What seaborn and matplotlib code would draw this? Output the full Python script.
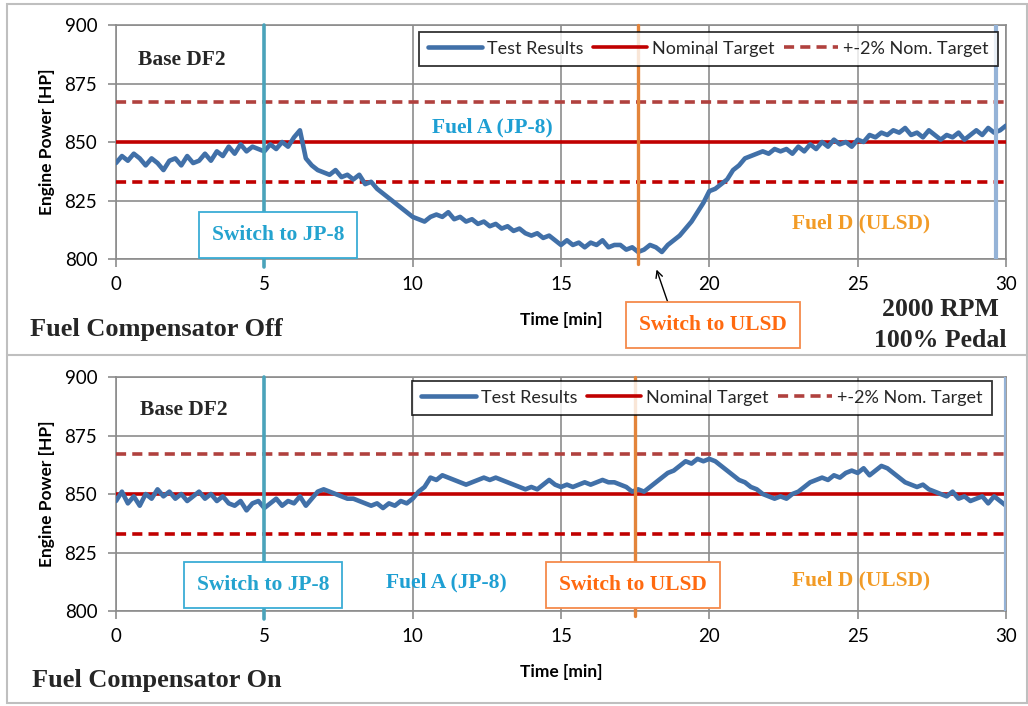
import numpy as np
import pandas as pd
import matplotlib
matplotlib.use("Agg")
import matplotlib.pyplot as plt
import seaborn as sns
from matplotlib.patches import Rectangle
from matplotlib.lines import Line2D

# ---------------- data ----------------
time_min = np.round(np.arange(0, 30.01, 0.2), 1)

power_comp_off = [
    841, 844, 842, 845, 843,
    840, 843, 841, 838, 842,
    843, 840, 844, 841, 842,
    845, 842, 846, 844, 848,
    845, 849, 846, 848, 847,
    846, 849, 847, 850, 848,
    852, 855, 843, 840, 838,
    837, 836, 838, 835, 836,
    834, 836, 832, 833, 830,
    828, 826, 824, 822, 820,
    818, 817, 816, 818, 819,
    818, 820, 817, 818, 816,
    817, 815, 816, 814, 815,
    813, 814, 812, 813, 811,
    810, 811, 809, 810, 808,
    806, 808, 806, 807, 805,
    807, 806, 808, 805, 806,
    806, 804, 805, 803, 804,
    806, 805, 803, 806, 808,
    810, 813, 816, 820, 824,
    829, 830, 832, 834, 838,
    840, 843, 844, 845, 846,
    845, 847, 846, 847, 845,
    848, 846, 849, 847, 850,
    848, 851, 849, 850, 848,
    851, 850, 853, 852, 854,
    853, 855, 854, 856, 853,
    854, 852, 855, 853, 851,
    853, 852, 854, 851, 853,
    855, 853, 856, 854, 855,
    857,
]

power_comp_on = [
    847, 851, 846, 849, 845,
    850, 848, 852, 849, 851,
    848, 850, 847, 849, 851,
    848, 850, 847, 849, 846,
    845, 847, 843, 846, 847,
    844, 846, 848, 845, 847,
    846, 849, 845, 848, 851,
    852, 851, 850, 849, 848,
    848, 847, 846, 845, 846,
    844, 846, 845, 847, 846,
    848, 851, 853, 857, 856,
    858, 857, 856, 855, 854,
    855, 856, 857, 856, 857,
    856, 855, 854, 853, 852,
    853, 852, 854, 856, 854,
    853, 854, 853, 854, 855,
    854, 855, 856, 855, 855,
    854, 853, 851, 852, 851,
    853, 855, 857, 859, 860,
    862, 864, 863, 865, 864,
    865, 864, 862, 860, 858,
    856, 855, 853, 852, 850,
    849, 848, 849, 848, 850,
    851, 853, 855, 856, 857,
    856, 858, 857, 859, 860,
    859, 861, 858, 860, 862,
    861, 859, 857, 855, 854,
    853, 854, 852, 851, 850,
    849, 851, 848, 849, 847,
    848, 849, 846, 849, 847,
    845,
]

nominal_target = 850
target_band = [833, 867]          # +-2% of nominal
switch_jp8 = [5.0, 5.0]           # [top, bottom] panel, min
switch_ulsd = [17.6, 17.5]
end_marker = [29.65, 30.0]
x_ticks = [0, 5, 10, 15, 20, 25, 30]
y_ticks = [800, 825, 850, 875, 900]
legend_labels = ["Test Results", "Nominal Target", "+-2% Nom. Target"]
panel_titles = ["Fuel Compensator Off", "Fuel Compensator On"]

# ---------------- style ----------------
sns.set_theme(style="white")
plt.rcParams["font.family"] = ["Lato", "DejaVu Sans"]

BLUE = "#4170A8"
RED = "#C00000"
BROWN = "#B0413E"
TEAL = "#4AA3BA"
ORANGE = "#E3843A"
LIGHTBLUE = "#95B3D7"
GRID = "#8C8C8C"
FUELA = "#1E9FD3"
FUELD = "#F29B26"
ULSD_TXT = "#FF6A10"
SERIF = ["Liberation Serif", "DejaVu Serif"]

W, H = 1028, 706
fig = plt.figure(figsize=(W / 100, H / 100), dpi=100)
ax1 = fig.add_axes([116 / W, 1 - 259 / H, 890 / W, 234 / H])
ax2 = fig.add_axes([116 / W, 1 - 611 / H, 890 / W, 234 / H])

# figure border + separator
fig.patches.append(Rectangle((7 / W, 1 - 703 / H), 1 - 8 / W, 699 / H, transform=fig.transFigure,
                             fill=False, edgecolor="#BFBFBF", lw=1.5))
fig.lines.append(Line2D([7 / W, 1], [1 - 355 / H, 1 - 355 / H], transform=fig.transFigure,
                        color="#BFBFBF", lw=1.5))


def draw_panel(ax, values, i):
    df = pd.DataFrame({"Time [min]": time_min, "Engine Power [HP]": values})
    sns.lineplot(data=df, x="Time [min]", y="Engine Power [HP]", ax=ax, color=BLUE,
                 lw=3.3, label=legend_labels[0], zorder=4)
    ax.axhline(nominal_target, color=RED, lw=2.6, label=legend_labels[1], zorder=3)
    ax.axhline(target_band[1], color=BROWN, lw=2.6, ls=(0, (2.8, 1.7)), label=legend_labels[2], zorder=3)
    ax.axhline(target_band[0], color=RED, lw=2.6, ls=(0, (2.8, 1.7)), label="_nolegend_", zorder=3)
    ax.axvline(switch_jp8[i], ymin=-0.035, ymax=1, color=TEAL, lw=2.6, zorder=6, clip_on=False)
    ax.axvline(switch_ulsd[i], ymin=-0.02, ymax=1, color=ORANGE, lw=2.4, zorder=6, clip_on=False)
    ax.axvline(end_marker[i], color=LIGHTBLUE, lw=3, zorder=6)

    ax.set_xlim(0, 30)
    ax.set_ylim(800, 900)
    ax.set_xticks(x_ticks)
    ax.set_yticks(y_ticks)
    ax.grid(True, color=GRID, lw=1.2)
    ax.set_axisbelow(True)
    for s in ax.spines.values():
        s.set_color(GRID)
        s.set_linewidth(1.2)
    ax.tick_params(axis="both", which="major", length=5.5, width=1.2, color=GRID,
                   labelsize=13.5, labelcolor="black", bottom=True, left=True)
    ax.tick_params(axis="y", pad=8)
    ax.tick_params(axis="x", pad=7)

    ax.set_xlabel("Time [min]", fontsize=12.5, fontweight="bold", color="black")
    ax.xaxis.set_label_coords(0.5, -0.225)
    ax.set_ylabel("Engine Power [HP]", fontsize=12.5, fontweight="bold", color="black")
    ax.yaxis.set_label_coords(-0.068, 0.5)

    leg = ax.legend(loc="upper right", bbox_to_anchor=(0.991 if i == 0 else 0.984, 0.972 if i == 0 else 0.985),
                    ncol=3, frameon=True, fancybox=False, fontsize=13, handlelength=3.0,
                    handletextpad=0.3, columnspacing=0.5, borderpad=0.5, borderaxespad=0)
    leg.get_frame().set_edgecolor("black")
    leg.get_frame().set_linewidth(1.3)
    leg.set_zorder(10)


draw_panel(ax1, power_comp_off, 0)
draw_panel(ax2, power_comp_on, 1)

box_kw = dict(boxstyle="square,pad=0.6", facecolor="white", lw=1.3)

# top panel annotations
ax1.text(2.22, 885, "Base DF2", fontsize=15.5, fontweight="bold", family=SERIF, ha="center", va="center", zorder=7)
ax1.text(12.7, 856.4, "Fuel A (JP-8)", fontsize=15.5, fontweight="bold", family=SERIF, color=FUELA,
         ha="center", va="center", zorder=7)
ax1.text(25.1, 815.2, "Fuel D (ULSD)", fontsize=15.5, fontweight="bold", family=SERIF, color=FUELD,
         ha="center", va="center", zorder=7)
ax1.text(5.46, 810.3, "Switch to JP-8", fontsize=15.5, fontweight="bold", family=SERIF, color="#24A3CF",
         ha="center", va="center", zorder=8, bbox=dict(box_kw, edgecolor="#3AADD5"))
ax1.text(20.12, 771.8, "Switch to ULSD", fontsize=15.5, fontweight="bold", family=SERIF, color=ULSD_TXT,
         ha="center", va="center", zorder=8, bbox=dict(box_kw, edgecolor="#F58A4B"))
ax1.annotate("", xy=(18.22, 795.5), xytext=(18.6, 781.5), annotation_clip=False,
             arrowprops=dict(arrowstyle="->", color="black", lw=1.0, shrinkA=0, shrinkB=0))

# bottom panel annotations
ax2.text(2.3, 885.9, "Base DF2", fontsize=15.5, fontweight="bold", family=SERIF, ha="center", va="center", zorder=7)
ax2.text(11.15, 812, "Fuel A (JP-8)", fontsize=15.5, fontweight="bold", family=SERIF, color=FUELA,
         ha="center", va="center", zorder=7)
ax2.text(25.1, 813, "Fuel D (ULSD)", fontsize=15.5, fontweight="bold", family=SERIF, color=FUELD,
         ha="center", va="center", zorder=7)
ax2.text(4.96, 811, "Switch to JP-8", fontsize=15.5, fontweight="bold", family=SERIF, color="#24A3CF",
         ha="center", va="center", zorder=8, bbox=dict(box_kw, edgecolor="#3AADD5"))
ax2.text(17.43, 811, "Switch to ULSD", fontsize=15.5, fontweight="bold", family=SERIF, color=ULSD_TXT,
         ha="center", va="center", zorder=8, bbox=dict(box_kw, edgecolor="#F58A4B"))

# figure level labels
fig.text(30 / W, 1 - 330 / H, panel_titles[0], fontsize=19, fontweight="bold", family=SERIF,
         ha="left", va="center")
fig.text(32 / W, 1 - 680 / H, panel_titles[1], fontsize=19, fontweight="bold", family=SERIF,
         ha="left", va="center")
fig.text(940 / W, 1 - 310 / H, "2000 RPM", fontsize=18.5, fontweight="bold", family=SERIF,
         ha="center", va="center")
fig.text(940 / W, 1 - 341 / H, "100% Pedal", fontsize=18.5, fontweight="bold", family=SERIF,
         ha="center", va="center")

fig.savefig("out.png", dpi=100, facecolor="white")
